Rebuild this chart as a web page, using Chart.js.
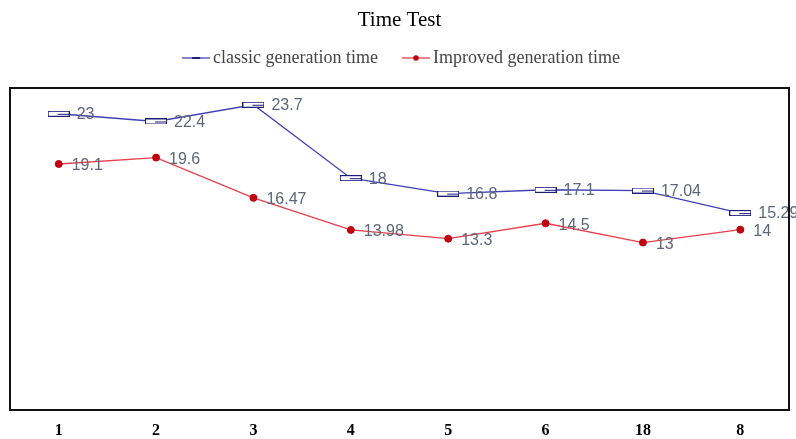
<!DOCTYPE html>
<html>
<head>
<meta charset="utf-8">
<script src="https://cdn.jsdelivr.net/npm/chart.js@4"></script>
<style>
  html, body { margin: 0; padding: 0; background: #fff; }
  #wrap { width: 796px; height: 439px; }
</style>
</head>
<body>
<div id="wrap"><canvas id="c"></canvas></div>
<script>
// Run index along the x axis
const categories = ['1', '2', '3', '4', '5', '6', '18', '8'];
// Generation times per run
const classicTimes = [23, 22.4, 23.7, 18, 16.8, 17.1, 17.04, 15.29];
const improvedTimes = [19.1, 19.6, 16.47, 13.98, 13.3, 14.5, 13, 14];

const BLUE_LINE = '#4040b4';
const BLUE_MARK = '#1c1c7a';
const RED_LINE = '#e8404a';
const RED_MARK = '#c00010';
const LABEL_GRAY = '#5e6677';
const SERIF = '"Liberation Serif", "Times New Roman", serif';

// Hollow bar marker for the classic series
function makeRectMarker() {
  const c = document.createElement('canvas');
  c.width = 22; c.height = 6;
  const g = c.getContext('2d');
  g.fillStyle = '#fff';
  g.fillRect(0, 0, 22, 6);
  g.strokeStyle = BLUE_MARK;
  g.lineWidth = 1;
  g.strokeRect(0.5, 0.5, 21, 5);
  g.beginPath();
  g.moveTo(10, 3.5); g.lineTo(21, 3.5);
  g.stroke();
  return c;
}

// Legend swatches: short line with the series marker in the middle
// (the line sits in the right-hand 28px of the swatch)
function makeLegendSwatch(lineColor, kind) {
  const c = document.createElement('canvas');
  c.width = 37; c.height = 10;
  const g = c.getContext('2d');
  const x0 = 9, x1 = 37;
  g.strokeStyle = lineColor;
  g.lineWidth = 1.3;
  g.beginPath(); g.moveTo(x0, 5); g.lineTo(x1, 5); g.stroke();
  const mid = (x0 + x1) / 2;
  if (kind === 'rect') {
    g.strokeStyle = BLUE_MARK;
    g.lineWidth = 2;
    g.beginPath(); g.moveTo(mid - 4, 5); g.lineTo(mid + 4, 5); g.stroke();
  } else {
    g.fillStyle = RED_MARK;
    g.beginPath(); g.arc(mid, 5, 2.8, 0, Math.PI * 2); g.fill();
  }
  return c;
}

const rectMarker = makeRectMarker();
const legendSwatches = [makeLegendSwatch(BLUE_LINE, 'rect'), makeLegendSwatch(RED_LINE, 'dot')];

// Value labels to the right of each point
const valueLabels = {
  id: 'valueLabels',
  afterDatasetsDraw(chart) {
    const ctx = chart.ctx;
    ctx.save();
    ctx.font = '16px "Liberation Sans", Arial, sans-serif';
    ctx.fillStyle = LABEL_GRAY;
    ctx.textAlign = 'left';
    ctx.textBaseline = 'middle';
    const offsets = [{dx: 18, dy: 1}, {dx: 13, dy: 2}];
    chart.data.datasets.forEach((ds, di) => {
      const meta = chart.getDatasetMeta(di);
      meta.data.forEach((pt, i) => {
        ctx.fillText(String(ds.data[i]), pt.x + offsets[di].dx, pt.y + offsets[di].dy);
      });
    });
    ctx.restore();
  }
};

// Black frame around the plot area
const plotFrame = {
  id: 'plotFrame',
  afterDraw(chart) {
    const a = chart.chartArea;
    const ctx = chart.ctx;
    ctx.save();
    ctx.strokeStyle = '#111';
    ctx.lineWidth = 2;
    ctx.strokeRect(a.left, a.top, a.right - a.left, a.bottom - a.top);
    ctx.restore();
  }
};

new Chart(document.getElementById('c'), {
  type: 'line',
  data: {
    labels: categories,
    datasets: [
      {
        label: 'classic generation time',
        data: classicTimes,
        borderColor: BLUE_LINE,
        borderWidth: 1.3,
        pointStyle: rectMarker,
        pointRadius: 4,
        pointHoverRadius: 4,
        tension: 0,
        fill: false
      },
      {
        label: 'Improved generation time',
        data: improvedTimes,
        borderColor: RED_LINE,
        borderWidth: 1.3,
        pointStyle: 'circle',
        pointRadius: 3.5,
        pointBackgroundColor: RED_MARK,
        pointBorderColor: RED_MARK,
        pointBorderWidth: 1,
        tension: 0,
        fill: false
      }
    ]
  },
  options: {
    responsive: true,
    maintainAspectRatio: false,
    animation: false,
    events: [],
    layout: { padding: { left: 10, right: 7, top: 0, bottom: 0 } },
    plugins: {
      title: {
        display: true,
        text: 'Time Test',
        color: '#000',
        font: { family: SERIF, size: 21, weight: 'normal' },
        padding: { top: 8, bottom: -5.2 }
      },
      // empty spacer between the legend and the plot frame
      subtitle: {
        display: true,
        text: '',
        weight: 500,
        font: { size: 10, lineHeight: 1.1 },
        padding: 0
      },
      legend: {
        display: true,
        position: 'top',
        labels: {
          color: '#454545',
          font: { family: SERIF, size: 18 },
          usePointStyle: true,
          pointStyleWidth: 25,
          padding: 21,
          generateLabels(chart) {
            return chart.data.datasets.map((ds, i) => ({
              text: ds.label,
              pointStyle: legendSwatches[i],
              fillStyle: 'transparent',
              strokeStyle: 'transparent',
              lineWidth: 0,
              fontColor: '#454545',
              hidden: false,
              datasetIndex: i
            }));
          }
        }
      },
      tooltip: { enabled: false }
    },
    scales: {
      x: {
        offset: true,
        grid: { display: false, drawTicks: false },
        border: { display: false },
        ticks: {
          color: '#000',
          padding: 11,
          font: { family: SERIF, size: 16, weight: 'bold' }
        },
        afterFit(scale) { scale.height = 29; }
      },
      y: {
        display: false,
        min: 0,
        max: 25
      }
    }
  },
  plugins: [valueLabels, plotFrame]
});
</script>
</body>
</html>
